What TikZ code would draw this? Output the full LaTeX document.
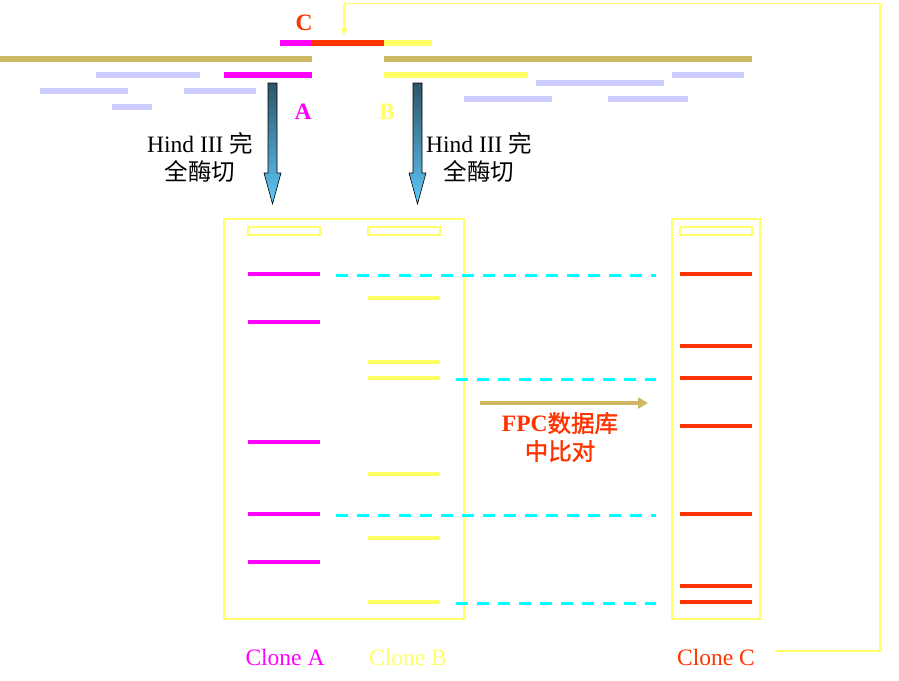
\documentclass[tikz,border=0pt]{standalone}
\usepackage{fontspec}
\setmainfont{Liberation Serif}
\newfontfamily\cjk{Noto Sans CJK SC}
\newfontfamily\cjkb[FakeBold=1.5]{Noto Sans CJK SC}
\usetikzlibrary{arrows.meta}
\definecolor{tanc}{RGB}{205,185,100}
\definecolor{lavc}{RGB}{204,204,255}
\definecolor{magc}{RGB}{255,0,255}
\definecolor{yelc}{RGB}{255,255,102}
\definecolor{redc}{RGB}{255,51,0}
\definecolor{cyanc}{RGB}{0,255,255}
\definecolor{darkarr}{RGB}{45,85,105}
\definecolor{lightarr}{RGB}{95,200,250}
\newcommand\bigfont{\fontsize{23.5}{28}\selectfont}
\begin{document}
\begin{tikzpicture}[x=1pt,y=-1pt,
  bar/.style={line width=6pt},
  band/.style={line width=4pt},
  gelbox/.style={draw=yelc,line width=1.2pt},
  wellbox/.style={draw=yelc,line width=1.2pt},
  matchline/.style={cyanc,line width=3pt,dash pattern=on 12pt off 9pt},
  lbl/.style={font=\bigfont,inner sep=0pt},
  digest/.style={draw=black,line width=0.6pt,top color=darkarr,bottom color=lightarr,shading angle=0}]
\useasboundingbox (0,0) rectangle (899,680);

% top contig C
\draw[bar,magc] (280,43) -- (312,43);
\draw[bar,redc] (312,43) -- (384,43);
\draw[bar,yelc] (384,43) -- (432,43);
\node[lbl,text=redc,font=\bigfont\bfseries] (labC) at (304,23) {C};

% chromosome
\draw[bar,tanc] (0,59) -- (312,59);
\draw[bar,tanc] (384,59) -- (752,59);

% clones row
\draw[bar,lavc] (96,75) -- (200,75);
\draw[bar,magc] (224,75) -- (312,75);
\draw[bar,yelc] (384,75) -- (528,75);
\draw[bar,lavc] (672,75) -- (744,75);
\draw[bar,lavc] (536,83) -- (664,83);
\draw[bar,lavc] (40,91) -- (128,91);
\draw[bar,lavc] (184,91) -- (256,91);
\draw[bar,lavc] (464,99) -- (552,99);
\draw[bar,lavc] (608,99) -- (688,99);
\draw[bar,lavc] (112,107) -- (152,107);

% labels A B
\node[lbl,text=magc,font=\bigfont\bfseries] (labA) at (303,112) {A};
\node[lbl,text=yelc,font=\bigfont\bfseries] (labB) at (387,112) {B};

% digestion arrows
\path[digest] (268,83) -- (277,83) -- (277,173) -- (281,173) -- (272.5,204) -- (264,173) -- (268,173) -- cycle;
\path[digest] (413,83) -- (422,83) -- (422,173) -- (426,173) -- (417.5,204) -- (409,173) -- (413,173) -- cycle;
\node[lbl,align=center] (digA) at (200,157) {Hind III {\cjk 完}\\{\cjk 全酶切}};
\node[lbl,align=center] (digB) at (479,157) {Hind III {\cjk 完}\\{\cjk 全酶切}};

% gels
\draw[gelbox] (224,219) rectangle (464,619);
\draw[gelbox] (672,219) rectangle (760,619);
\draw[wellbox] (248,227) rectangle (320,235);
\draw[wellbox] (368,227) rectangle (440,235);
\draw[wellbox] (680,227) rectangle (752,235);

% lane A
\foreach \y in {274,322,442,514,562} \draw[band,magc] (248,\y) -- (320,\y);
% lane B
\foreach \y in {298,362,378,474,538,602} \draw[band,yelc] (368,\y) -- (440,\y);
% lane C
\foreach \y in {274,346,378,426,514,586,602} \draw[band,redc] (680,\y) -- (752,\y);

% matching lines
\draw[matchline] (336,275) -- (656,275);
\draw[matchline] (456,379) -- (656,379);
\draw[matchline] (336,515) -- (656,515);
\draw[matchline] (456,603) -- (656,603);

% FPC arrow
\draw[tanc,line width=4pt,-{Triangle[length=10pt,width=11pt]}] (480,403) -- (648,403);
\node[lbl,align=center,text=redc] (fpc) at (560,437) {{\bfseries FPC}{\cjkb 数据库}\\{\cjkb 中比对}};

% clone labels
\node[lbl,text=magc] (cloneA) at (285,657) {Clone A};
\node[lbl,text=yelc] (cloneB) at (408,657) {Clone B};
\node[lbl,text=redc] (cloneC) at (716,657) {Clone C};

% feedback line
\coordinate (fbA) at (776,651);
\coordinate (fbB) at (880,651);
\coordinate (fbC) at (880,3.5);
\coordinate (fbD) at (344,3.5);
\coordinate (fbE) at (344,35);
\draw[yelc,line width=1.2pt,-{Triangle[length=7pt,width=7pt]}] (fbA) -- (fbB) -- (fbC) -- (fbD) -- (fbE);
\end{tikzpicture}
\end{document}
